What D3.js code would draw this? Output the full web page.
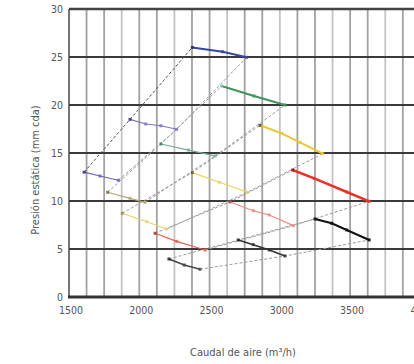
<!DOCTYPE html>
<html><head><meta charset="utf-8">
<script src="https://cdn.jsdelivr.net/npm/d3@7"></script>
<style>body{margin:0;background:#fff;} svg{display:block;}</style>
</head><body>
<svg id="c" width="414" height="364"></svg>
<script>
// ---- data ----
const xTicks = [1500, 2000, 2500, 3000, 3500, 4000];
const yTicks = [0, 5, 10, 15, 20, 25, 30];
const xLabel = "Caudal de aire (m³/h)";
const yLabel = "Presión estática (mm cda)";

// Group A (blue family)
const blueHigh   = [[2377,26.0],[2593,25.55],[2764,24.97]];
const purpleMid  = [[1934,18.5],[2046,18.02],[2154,17.84],[2266,17.47]];
const purpleLow  = [[1607,13.0],[1721,12.6],[1851,12.16]];
// Group B (green family)
const greenHigh  = [[2586,21.98],[2816,20.94],[3037,20.0]];
const tealMid    = [[2154,15.94],[2350,15.3],[2540,14.7]];
const oliveLow   = [[1775,10.91],[1934,10.28],[2041,9.86]];
// Group C (yellow family)
const yellowHigh = [[2859,17.89],[3013,17.05],[3143,16.11],[3305,14.93]];
const yellowMid  = [[2377,12.95],[2570,11.95],[2768,10.91]];
const yellowLow  = [[1879,8.72],[2053,7.84],[2195,7.08]];
// Group D (red family)
const redHigh    = [[3091,13.23],[3245,12.36],[3476,10.94],[3636,9.97]];
const salmonMid  = [[2645,9.9],[2811,8.99],[2925,8.54],[3096,7.43]];
const salmonLow  = [[2112,6.64],[2266,5.8],[2468,4.9]];
// Group E (black family)
const blackHigh  = [[3250,8.13],[3369,7.68],[3476,6.98],[3636,5.94]];
const darkMid    = [[2704,5.94],[2811,5.45],[2925,4.9],[3037,4.27]];
const blackLow   = [[2211,3.96],[2320,3.33],[2432,2.89]];

const series = [
  {d: purpleLow,  c:"#6b62b5", w:1.2, m:"#3a3470"},
  {d: purpleMid,  c:"#7d74c4", w:1.2, m:"#3a3470"},
  {d: blueHigh,   c:"#3448a0", w:2,   m:"#222a60"},
  {d: oliveLow,   c:"#b3a77a", w:1.2, m:"#706850"},
  {d: tealMid,    c:"#74ad98", w:1.2, m:"#4a7868"},
  {d: greenHigh,  c:"#3f9460", w:2,   m:"#7fc0c0"},
  {d: yellowLow,  c:"#e2d46a", w:1.2, m:"#9a9050"},
  {d: yellowMid,  c:"#e8d45a", w:1.2, m:"#6a5a30"},
  {d: yellowHigh, c:"#e9c92e", w:2,   m:"#5a4a20"},
  {d: salmonLow,  c:"#ef5a50", w:1.2, m:"#b03030"},
  {d: salmonMid,  c:"#f08a84", w:1.2, m:"#a05050"},
  {d: redHigh,    c:"#e8322a", w:2.5, m:"#8a1a1a"},
  {d: blackLow,   c:"#444444", w:1.5, m:"#222"},
  {d: darkMid,    c:"#333333", w:1.5, m:"#222"},
  {d: blackHigh,  c:"#111111", w:2,   m:"#111"}
];
// dashed connecting lines (start points and end points of each family)
const groups = [
  [purpleLow, purpleMid, blueHigh],
  [oliveLow, tealMid, greenHigh],
  [yellowLow, yellowMid, yellowHigh],
  [salmonLow, salmonMid, redHigh],
  [blackLow, darkMid, blackHigh]
];

// ---- drawing ----
const svg = d3.select("#c");
const x = d3.scaleLinear().domain([1500, 4000]).range([69, 420.4]);
const y = d3.scaleLinear().domain([0, 30]).range([297, 9]);
const font = "'Liberation Sans Narrow','DejaVu Sans Condensed',sans-serif";

// vertical grid every 125
const vGrid = d3.range(1625, 4001, 125);
svg.append("g").selectAll("line").data(vGrid).join("line")
  .attr("x1", d => x(d)).attr("x2", d => x(d))
  .attr("y1", y(30)).attr("y2", y(0))
  .attr("stroke", d => (d % 375 === 0 ? "#c4c4c4" : "#a2a2a2")).attr("stroke-width", 1.8);
// left axis line
svg.append("line").attr("x1", x(1500)).attr("x2", x(1500)).attr("y1", y(30)).attr("y2", y(0))
  .attr("stroke", "#777").attr("stroke-width", 2);
// horizontal grid
svg.append("g").selectAll("line").data(yTicks.filter(v => v > 0 && v < 30)).join("line")
  .attr("x1", x(1500)).attr("x2", 414).attr("y1", d => y(d)).attr("y2", d => y(d))
  .attr("stroke", "#3a3a3a").attr("stroke-width", 2);
svg.append("line").attr("x1", x(1500)).attr("x2", 414).attr("y1", y(30)).attr("y2", y(30))
  .attr("stroke", "#444").attr("stroke-width", 2.5);
svg.append("line").attr("x1", x(1500) - 1).attr("x2", 414).attr("y1", y(0)).attr("y2", y(0))
  .attr("stroke", "#333").attr("stroke-width", 3);

// tick labels
svg.append("g").selectAll("text").data(yTicks).join("text")
  .attr("x", 63).attr("y", d => y(d)).attr("dy", "0.35em").attr("text-anchor", "end")
  .attr("font-family", font).attr("font-size", 10.5).attr("fill", "#555").text(d => d);
svg.append("g").selectAll("text").data(xTicks).join("text")
  .attr("x", d => x(d) + 2).attr("y", 310).attr("dy", "0.35em").attr("text-anchor", "middle")
  .attr("font-family", font).attr("font-size", 10.5).attr("fill", "#555").text(d => d);

// axis titles
svg.append("text").attr("x", 243).attr("y", 352).attr("dy", "0.35em").attr("text-anchor", "middle")
  .attr("font-family", font).attr("font-size", 11).attr("fill", "#555").text(xLabel);
svg.append("text").attr("transform", "translate(35,170) rotate(-90)").attr("dy", "0.35em")
  .attr("text-anchor", "middle").attr("font-family", font).attr("font-size", 11).attr("fill", "#555").text(yLabel);

// dashed connectors
const line = d3.line().x(d => x(d[0])).y(d => y(d[1]));
groups.forEach((g, gi) => {
  const starts = g.map(s => s[0]);
  const ends = g.map(s => s[s.length - 1]);
  svg.append("path").attr("d", line(starts)).attr("fill", "none")
    .attr("stroke", gi === 0 ? "#555" : "#9a9a9a").attr("stroke-width", 1).attr("stroke-dasharray", "3,2");
  svg.append("path").attr("d", line(ends)).attr("fill", "none")
    .attr("stroke", "#9a9a9a").attr("stroke-width", 1).attr("stroke-dasharray", "3,2");
});

// curves
series.forEach(s => {
  svg.append("path").attr("d", line(s.d)).attr("fill", "none")
    .attr("stroke", s.c).attr("stroke-width", s.w);
  svg.append("g").selectAll("rect").data(s.d).join("rect")
    .attr("x", d => x(d[0]) - 1.5).attr("y", d => y(d[1]) - 1.5)
    .attr("width", 3).attr("height", 3)
    .attr("fill", (d, i) => i === 0 ? s.m : s.c).attr("opacity", 0.85);
});
</script>
</body></html>
